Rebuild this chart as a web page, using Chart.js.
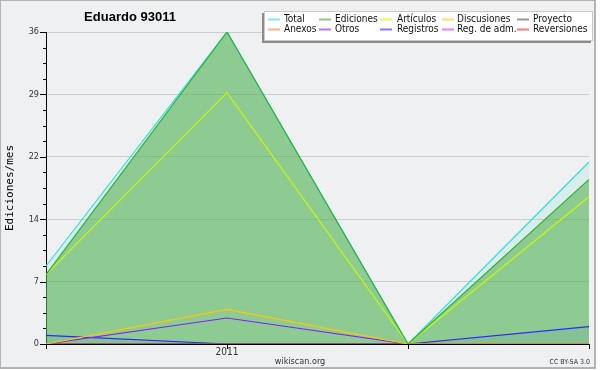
<!DOCTYPE html>
<html>
<head>
<meta charset="utf-8">
<script src="https://cdn.jsdelivr.net/npm/chart.js@4.4.1/dist/chart.umd.min.js"></script>
<style>
  body { margin: 0; background: #fff; }
  canvas { display: block; }
</style>
</head>
<body>
<canvas id="chart" width="600" height="370"></canvas>
<script>
// months shown on the x axis (only January gets a label)
const months = ["2010-12", "2011-01", "2011-02", "2011-03"];
const xTickLabels = ["", "2011", "", ""];

// series values (edits per month)
const total       = [9, 36, 0, 21];
const ediciones   = [8, 36, 0, 19];
const articulos   = [8, 29, 0, 17];
const discusiones = [0, 4, 0, 0];
const proyecto    = [0, 0, 0, 0];
const anexos      = [0, 0, 0, 0];
const otros       = [0, 3, 0, 0];
const registros   = [1, 0, 0, 2];
const regAdm      = [0, 0, 0, 0];
const reversiones = [0, 0, 0, 0];

// y axis
const yMax = 36;
const yMajorLabels = ["0", "7", "14", "22", "29", "36"];
const yMinorPerMajor = 4;

const FONT = "'DejaVu Sans Condensed', 'DejaVu Sans', sans-serif";

function line(label, data, color, fill, order) {
    return {
        label: label,
        data: data,
        borderColor: color,
        backgroundColor: fill || color,
        legendColor: color,
        borderWidth: 1.2,
        pointRadius: 0,
        tension: 0,
        fill: fill ? "origin" : false,
        order: order || 0
    };
}

const datasets = [
    line("Total", total, "#2fe0da", "rgba(120,225,215,0.18)", 1),
    line("Ediciones", ediciones, "#2fae3a", "rgba(70,172,66,0.52)"),
    line("Artículos", articulos, "#c8f800"),
    line("Discusiones", discusiones, "#ffc800"),
    line("Proyecto", proyecto, "#555555"),
    line("Anexos", anexos, "#ff7f3f"),
    line("Otros", otros, "#8020f8"),
    line("Registros", registros, "#2a2aff", "rgba(60,60,255,0.12)"),
    line("Reg. de adm.", regAdm, "#cc33ff"),
    line("Reversiones", reversiones, "#ee2222")
];

// frame, title, legend box and extra texts
const decorations = {
    id: "decorations",
    beforeDraw(chart) {
        const ctx = chart.ctx;
        ctx.save();
        ctx.fillStyle = "#ffffff";
        ctx.fillRect(0, 0, 600, 370);
        ctx.fillStyle = "#eff0f2";
        ctx.fillRect(0, 0, 595, 368);
        ctx.strokeStyle = "#b4b4b4";
        ctx.lineWidth = 2;
        ctx.strokeRect(0, 0, 595, 368);
        ctx.restore();
    },
    afterDraw(chart) {
        const ctx = chart.ctx;
        const area = chart.chartArea;
        const y = chart.scales.y;
        const x = chart.scales.x;
        ctx.save();

        // y ticks (major + minor)
        ctx.strokeStyle = "#000";
        ctx.lineWidth = 1;
        y.ticks.forEach((t, i) => {
            const py = Math.round(y.getPixelForValue(t.value)) + 0.5;
            const len = i % yMinorPerMajor === 0 ? 6 : 3;
            ctx.beginPath();
            ctx.moveTo(area.left - len, py);
            ctx.lineTo(area.left, py);
            ctx.stroke();
        });
        // x ticks
        months.forEach((m, i) => {
            const px = Math.round(x.getPixelForValue(i)) + 0.5;
            ctx.beginPath();
            ctx.moveTo(px, area.bottom);
            ctx.lineTo(px, area.bottom + 5);
            ctx.stroke();
        });

        // title
        ctx.fillStyle = "#000";
        ctx.font = "bold 13px 'Liberation Sans', sans-serif";
        ctx.textAlign = "center";
        ctx.textBaseline = "alphabetic";
        ctx.fillText("Eduardo 93011", 130, 21);

        // y axis title
        ctx.save();
        ctx.translate(10, (area.top + area.bottom) / 2);
        ctx.rotate(-Math.PI / 2);
        ctx.font = "11px 'DejaVu Sans Mono', monospace";
        ctx.textBaseline = "middle";
        ctx.fillText("Ediciones/mes", 0, 0);
        ctx.restore();

        // footer texts
        ctx.fillStyle = "#333";
        ctx.font = "9px " + FONT;
        ctx.textAlign = "center";
        ctx.fillText("wikiscan.org", 300, 364);
        ctx.font = "7px " + FONT;
        ctx.textAlign = "right";
        ctx.fillText("CC BY-SA 3.0", 590, 364);

        // legend
        ctx.fillStyle = "#8c8c8c";
        ctx.fillRect(262, 13, 329, 30);
        ctx.fillStyle = "#fff";
        ctx.fillRect(264, 11, 329, 30);
        ctx.strokeStyle = "#c8c8c8";
        ctx.lineWidth = 1;
        ctx.strokeRect(264.5, 11.5, 328, 29);
        const colLine = [268, 319, 380, 442, 517];
        const colText = [284, 335, 397, 457, 533];
        const rowY = [19.5, 29.5];
        ctx.font = "10px " + FONT;
        ctx.textAlign = "left";
        ctx.textBaseline = "middle";
        datasets.forEach((ds, i) => {
            const c = i % 5, r = Math.floor(i / 5);
            ctx.fillStyle = ds.legendColor;
            ctx.globalAlpha = 0.6;
            ctx.fillRect(colLine[c], rowY[r] - 1, 12, 2);
            ctx.globalAlpha = 1;
            ctx.fillStyle = "#111";
            ctx.fillText(ds.label, colText[c], rowY[r]);
        });
        ctx.restore();
    }
};

new Chart(document.getElementById("chart").getContext("2d"), {
    type: "line",
    data: { labels: months, datasets: datasets },
    plugins: [decorations],
    options: {
        responsive: false,
        animation: false,
        devicePixelRatio: 1,
        layout: { padding: { left: 0, right: 11, top: 32, bottom: 0 } },
        plugins: {
            legend: { display: false },
            title: { display: false },
            tooltip: { enabled: false },
            filler: { drawTime: "beforeDatasetsDraw" }
        },
        scales: {
            x: {
                type: "category",
                offset: false,
                grid: { display: false, drawTicks: false },
                border: { display: true, color: "#000", width: 1 },
                ticks: {
                    autoSkip: false,
                    maxRotation: 0,
                    padding: 2,
                    color: "#333",
                    font: { family: FONT, size: 10 },
                    callback: (v, i) => xTickLabels[i]
                },
                afterFit: s => { s.height = 26; }
            },
            y: {
                min: 0,
                max: yMax,
                grid: {
                    drawTicks: false,
                    color: c => c.index % yMinorPerMajor === 0 ? "#cdcdcd" : "rgba(0,0,0,0)"
                },
                border: { display: true, color: "#000", width: 1 },
                ticks: {
                    padding: 7,
                    color: "#333",
                    font: { family: FONT, size: 9 },
                    callback: (v, i) => i % yMinorPerMajor === 0 ? yMajorLabels[i / yMinorPerMajor] : ""
                },
                afterBuildTicks: s => {
                    const n = (yMajorLabels.length - 1) * yMinorPerMajor;
                    s.ticks = [];
                    for (let i = 0; i <= n; i++) s.ticks.push({ value: yMax * i / n });
                },
                afterFit: s => { s.width = 46; }
            }
        }
    }
});
</script>
</body>
</html>
